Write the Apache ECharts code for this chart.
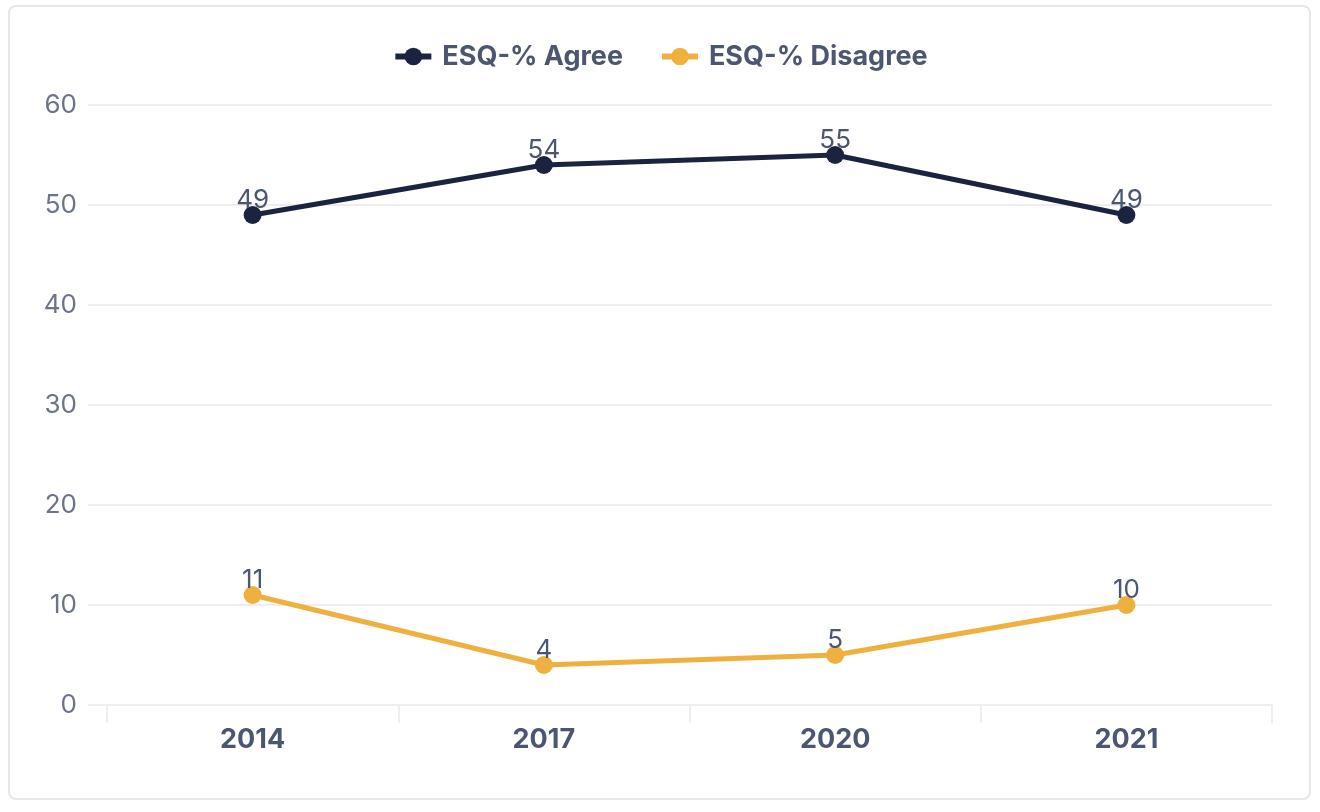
<!DOCTYPE html>
<html>
<head>
<meta charset="utf-8">
<script src="https://cdn.jsdelivr.net/npm/echarts@6/dist/echarts.min.js"></script>
<style>
  html, body { margin: 0; padding: 0; background: #fff; }
  #frame { position: absolute; left: 8px; top: 5px; width: 1303px; height: 795px;
           border: 2px solid #e6e7ea; border-radius: 8px; box-sizing: border-box; }
  #chart { position: absolute; left: 0; top: 0; width: 1320px; height: 812px; }
</style>
</head>
<body>
<div id="frame"></div>
<div id="chart"></div>
<script>
const categories = ['2014', '2017', '2020', '2021'];
const agreeName = 'ESQ-% Agree';
const disagreeName = 'ESQ-% Disagree';
const agreeValues = [49, 54, 55, 49];
const disagreeValues = [11, 4, 5, 10];

const chart = echarts.init(document.getElementById('chart'));
const labelStyle = {
  show: true, position: 'top', distance: -7,
  fontFamily: 'Inter', fontSize: 26, color: '#4b5670'
};
chart.setOption({
  animation: false,
  legend: {
    top: 38, left: 'center',
    itemWidth: 36, itemHeight: 22, itemGap: 36,
    lineStyle: { width: 6 },
    textStyle: { fontFamily: 'Inter', fontSize: 27, fontWeight: 'bold', color: '#4b5670', padding: [0, 0, 0, 6] },
    data: [agreeName, disagreeName]
  },
  grid: { left: 107, right: 48, top: 105, bottom: 107 },
  xAxis: {
    type: 'category', data: categories, boundaryGap: true,
    axisLine: { show: true, lineStyle: { color: '#eeeeef', width: 2 } },
    axisTick: { show: true, length: 18, lineStyle: { color: '#eeeeef', width: 2 } },
    axisLabel: { margin: 21, fontFamily: 'Inter', fontSize: 27, fontWeight: 'bold', color: '#4b5670' }
  },
  yAxis: {
    type: 'value', min: 0, max: 60, interval: 10,
    axisLine: { show: false },
    axisTick: { show: true, length: 19, lineStyle: { color: '#eeeeef', width: 2 } },
    splitLine: { lineStyle: { color: '#eeeeef', width: 2 } },
    axisLabel: { margin: 30, fontFamily: 'Inter', fontSize: 26, color: '#6b7489' }
  },
  series: [
    {
      name: agreeName, type: 'line', data: agreeValues,
      symbol: 'circle', symbolSize: 18,
      lineStyle: { width: 5, color: '#1a2440' },
      itemStyle: { color: '#1a2440' },
      label: labelStyle
    },
    {
      name: disagreeName, type: 'line', data: disagreeValues,
      symbol: 'circle', symbolSize: 18,
      lineStyle: { width: 5, color: '#f0b040' },
      itemStyle: { color: '#f0b040' },
      label: labelStyle
    }
  ]
});
</script>
</body>
</html>
